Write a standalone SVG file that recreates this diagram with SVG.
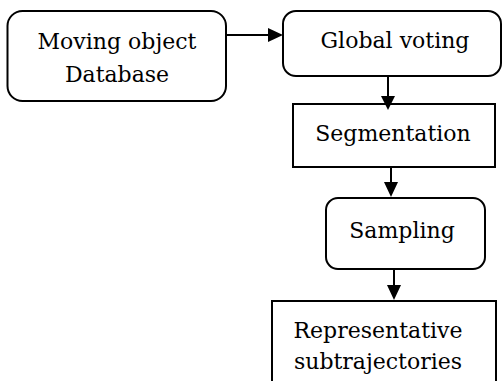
<svg xmlns="http://www.w3.org/2000/svg" width="502" height="381" viewBox="0 0 502 381">
<style>
.box{fill:#fff;stroke:#000;stroke-width:2}
.lbl{font-family:"DejaVu Serif","Liberation Serif",serif;font-size:22px;fill:#000;text-anchor:middle}
.edge{stroke:#000;stroke-width:2;fill:none}
.head{fill:#000}
</style>
<rect width="502" height="381" fill="#fff"/>
<g id="n1"><rect class="box" x="7.5" y="11" width="218.5" height="90" rx="15"/><text class="lbl" x="117" y="49">Moving object</text><text class="lbl" x="117" y="82">Database</text></g>
<g id="n2"><rect class="box" x="283" y="11" width="218" height="65" rx="13"/><text class="lbl" x="395" y="48">Global voting</text></g>
<g id="n3"><rect class="box" x="293" y="104" width="202" height="63"/><text class="lbl" x="393" y="141">Segmentation</text></g>
<g id="n4"><rect class="box" x="326" y="198" width="159" height="71" rx="12"/><text class="lbl" x="402" y="238">Sampling</text></g>
<g id="n5"><rect class="box" x="272" y="301" width="224" height="100"/><text class="lbl" x="378" y="338">Representative</text><text class="lbl" x="378" y="369">subtrajectories</text></g>
<g id="edges">
<line class="edge" x1="226" y1="35" x2="270" y2="35"/><polygon class="head" points="268,28 283,35 268,42"/>
<line class="edge" x1="388" y1="76" x2="388" y2="97"/><polygon class="head" points="381,96 395,96 388,110"/>
<line class="edge" x1="391" y1="167" x2="391" y2="184"/><polygon class="head" points="384,182 398,182 391,197"/>
<line class="edge" x1="394" y1="269" x2="394" y2="287"/><polygon class="head" points="387,285 401,285 394,300"/>
</g>
</svg>
